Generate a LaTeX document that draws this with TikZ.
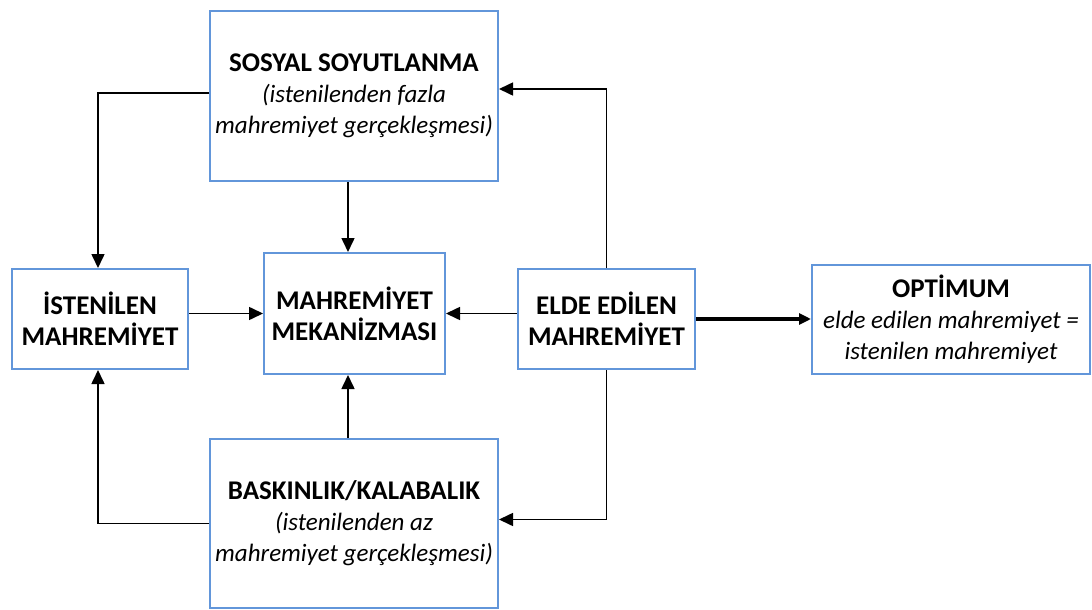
\documentclass[tikz,border=0pt]{standalone}
\usepackage{fontspec}
\setmainfont{Carlito}
\usetikzlibrary{arrows.meta}
\definecolor{boxblue}{RGB}{98,150,218}
\newcommand\bigbf[1]{{\fontsize{27}{31}\selectfont\bfseries #1}}
\begin{document}
\begin{tikzpicture}[x=1pt,y=-1pt,
  box/.style={draw=boxblue, line width=2pt, fill=white, align=center, inner sep=0pt,
    font=\fontsize{25}{31}\selectfont},
  conn/.style={draw=black, line width=1.6pt, -{Triangle[length=14pt,width=13pt]}},
  thickconn/.style={draw=black, line width=3.5pt, -{Triangle[length=12pt,width=11pt]}}
]
\useasboundingbox (0,0) rectangle (1092,610);
\node[box, minimum width=288pt, minimum height=170pt] (sos) at (354,96)
  {\bigbf{SOSYAL SOYUTLANMA}\\\textit{(istenilenden fazla}\\\textit{mahremiyet gerçekleşmesi)}};
\node[box, minimum width=176pt, minimum height=100pt] (ist) at (100,319)
  {\bigbf{İSTENİLEN}\\\bigbf{MAHREMİYET}};
\node[box, minimum width=181pt, minimum height=121pt] (mek) at (354.5,313.5)
  {\bigbf{MAHREMİYET}\\\bigbf{MEKANİZMASI}};
\node[box, minimum width=177pt, minimum height=100pt] (elde) at (606.5,319)
  {\bigbf{ELDE EDİLEN}\\\bigbf{MAHREMİYET}};
\node[box, minimum width=278pt, minimum height=109pt] (opt) at (951,319.5)
  {\bigbf{OPTİMUM}\\\textit{elde edilen mahremiyet =}\\\textit{istenilen mahremiyet}};
\node[box, minimum width=288pt, minimum height=169pt] (bas) at (354,523.5)
  {\bigbf{BASKINLIK/KALABALIK}\\\textit{(istenilenden az}\\\textit{mahremiyet gerçekleşmesi)}};

\draw[conn] ([yshift=3pt]sos.west) -| ([xshift=-2pt]ist.north);
\draw[conn] ([xshift=-6pt]sos.south) -- ([xshift=-6.5pt]mek.north);
\draw[conn] (ist.east |- mek.west) -- (mek.west);
\draw[conn] (elde.west |- mek.east) -- (mek.east);
\draw[conn] (elde.north) |- ([yshift=7pt]sos.east);
\draw[conn] (elde.south) |- ([yshift=4pt]bas.east);
\draw[conn] (bas.west) -| ([xshift=-2pt]ist.south);
\draw[conn] ([xshift=-6pt]bas.north) -- ([xshift=-6.5pt]mek.south);
\draw[thickconn] (elde.east) -- (opt.west |- elde.east);
\end{tikzpicture}
\end{document}
